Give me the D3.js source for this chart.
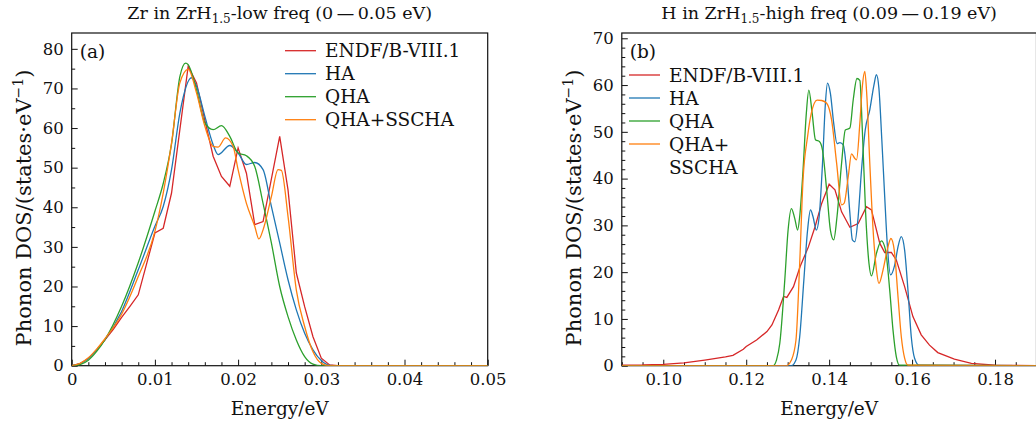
<!DOCTYPE html>
<html>
<head>
<meta charset="utf-8">
<script src="https://cdn.jsdelivr.net/npm/d3@7"></script>
<style>
  body { margin: 0; background: #fff; }
  svg text { font-family: "DejaVu Serif", serif; fill: #111; }
  .tick text { font-size: 16.5px; }
  .tick line, .domain { stroke: #111; }
</style>
</head>
<body>
<svg id="chart" width="1036" height="426"></svg>
<script>
// ---- data ----
var seriesNames = ["ENDF/B-VIII.1", "HA", "QHA", "QHA+SSCHA"];
var seriesColors = ["#d62728", "#1f77b4", "#2ca02c", "#ff7f0e"];

// (a) Zr, low frequency
var zrEndfE = [0, 0.001, 0.002, 0.003, 0.004, 0.005, 0.006, 0.007, 0.008, 0.010, 0.011, 0.012, 0.014, 0.015, 0.016, 0.017, 0.018, 0.019, 0.020, 0.021, 0.022, 0.023, 0.025, 0.026, 0.027, 0.028, 0.029, 0.030, 0.031, 0.032, 0.050];
var zrEndfD = [0, 0.5, 1.8, 4, 6.5, 9.2, 12.2, 15, 17.9, 33.5, 34.7, 43.6, 75.6, 71.4, 62, 52.9, 47.8, 45.3, 55, 48.6, 35.6, 36.4, 57.9, 44.4, 23.4, 14.9, 7.3, 1.9, 0.2, 0, 0];
var zrHaE = [0, 0.001, 0.002, 0.003, 0.004, 0.006, 0.008, 0.010, 0.011, 0.012, 0.013, 0.0144, 0.015, 0.016, 0.017, 0.0176, 0.019, 0.020, 0.021, 0.022, 0.023, 0.024, 0.025, 0.026, 0.027, 0.028, 0.029, 0.030, 0.031, 0.032, 0.050];
var zrHaD = [0, 0.5, 1.8, 4, 6.6, 13.7, 24.2, 35.2, 40.2, 49.5, 63.8, 72.7, 70.6, 63, 55.8, 53.3, 55.6, 53.7, 50.8, 51.3, 49.5, 40.2, 31, 21.7, 14.1, 8.2, 4, 1.3, 0.1, 0, 0];
var zrQhaE = [0, 0.001, 0.002, 0.003, 0.004, 0.006, 0.008, 0.010, 0.011, 0.012, 0.013, 0.0137, 0.014, 0.015, 0.016, 0.017, 0.018, 0.019, 0.020, 0.021, 0.022, 0.023, 0.024, 0.025, 0.026, 0.027, 0.028, 0.029, 0.030, 0.050];
var zrQhaD = [0, 0.3, 1.4, 3.6, 6.6, 15, 26, 39, 46, 56, 73, 76.4, 76, 69.7, 61.3, 59.6, 60.6, 57.9, 53.7, 53, 50.3, 41, 31, 20, 12.4, 6.5, 2.3, 0.4, 0, 0];
var zrSschaE = [0, 0.001, 0.002, 0.003, 0.004, 0.006, 0.008, 0.010, 0.011, 0.012, 0.013, 0.014, 0.015, 0.016, 0.017, 0.0176, 0.0185, 0.0194, 0.020, 0.021, 0.022, 0.0225, 0.023, 0.024, 0.0248, 0.0252, 0.026, 0.027, 0.028, 0.029, 0.030, 0.031, 0.050];
var zrSschaD = [0, 0.6, 2, 4.2, 6.8, 13, 22.5, 33.9, 43.6, 56.2, 71.4, 74.8, 68.9, 60.5, 55.4, 55.2, 57.5, 55.4, 49.5, 41, 35.2, 32, 34.3, 42.7, 49.5, 49.3, 37.7, 19.1, 9.9, 3.5, 0.6, 0, 0];

// (b) H, high frequency
var hEndfE = [0.09, 0.095, 0.10, 0.105, 0.11, 0.115, 0.1168, 0.1193, 0.12, 0.1225, 0.125, 0.1262, 0.1278, 0.129, 0.1298, 0.1314, 0.133, 0.135, 0.1366, 0.1382, 0.140, 0.1414, 0.143, 0.145, 0.147, 0.149, 0.1502, 0.1522, 0.1534, 0.155, 0.1562, 0.1582, 0.1602, 0.1622, 0.1642, 0.1662, 0.1702, 0.1743, 0.18, 0.19];
var hEndfD = [0.1, 0.15, 0.3, 0.6, 1.2, 1.9, 2.2, 3.5, 4.1, 5.5, 7.3, 8.7, 11.9, 14.8, 14.6, 16.9, 21.2, 25.4, 29.7, 34.7, 38.8, 37.6, 32.9, 29.6, 30.4, 34, 33.3, 26.2, 24.2, 24.2, 22.6, 16.9, 10.5, 6.6, 4.4, 2.8, 1.4, 0.5, 0.1, 0];
var hHaE = [0.09, 0.1309, 0.132, 0.1329, 0.1339, 0.1348, 0.1355, 0.1361, 0.1369, 0.1376, 0.1384, 0.1391, 0.1396, 0.1403, 0.1411, 0.1419, 0.1426, 0.1434, 0.1442, 0.145, 0.1456, 0.1462, 0.147, 0.1478, 0.1487, 0.1498, 0.1508, 0.1514, 0.152, 0.1527, 0.1534, 0.154, 0.1548, 0.1558, 0.1566, 0.1574, 0.1582, 0.159, 0.1598, 0.1606, 0.1617, 0.19];
var hHaD = [0, 0, 1.2, 6.2, 18.3, 29, 33.3, 31.9, 29, 31.9, 43.3, 56.1, 60.4, 58.2, 51.8, 47.5, 47.7, 47.2, 41.8, 32.6, 26.9, 26.5, 31.9, 41.8, 50.4, 54.7, 60, 62.2, 59.3, 48.3, 36.1, 26.2, 19.4, 21.5, 25.4, 27.6, 24.7, 16.2, 6.2, 1.6, 0.1, 0];
var hQhaE = [0.09, 0.1265, 0.1273, 0.1281, 0.1293, 0.1301, 0.1309, 0.1317, 0.1324, 0.1329, 0.1337, 0.1345, 0.1351, 0.1359, 0.1367, 0.1377, 0.1384, 0.1394, 0.1403, 0.1411, 0.1419, 0.143, 0.1439, 0.145, 0.1458, 0.1467, 0.1474, 0.148, 0.1488, 0.1496, 0.1502, 0.1514, 0.1526, 0.1536, 0.1546, 0.1554, 0.1562, 0.157, 0.19];
var hQhaD = [0, 0, 1.2, 4.8, 18.3, 29, 33.6, 31.5, 29, 31.9, 41.8, 54, 58.9, 54, 48.3, 47.9, 46.1, 37.6, 29, 26.9, 31.9, 43.3, 50.4, 50.8, 56.8, 61.4, 61, 50.4, 32.6, 21.9, 19.2, 24, 26.7, 24.7, 16.2, 7.6, 1.9, 0.1, 0];
var hSschaE = [0.09, 0.1297, 0.1309, 0.132, 0.1329, 0.1337, 0.1348, 0.1357, 0.1371, 0.1382, 0.1394, 0.1406, 0.1418, 0.143, 0.1436, 0.1446, 0.1454, 0.1462, 0.1466, 0.1474, 0.148, 0.1486, 0.1491, 0.1498, 0.1506, 0.1514, 0.152, 0.153, 0.154, 0.1549, 0.1557, 0.1566, 0.1574, 0.1582, 0.159, 0.19];
var hSschaD = [0, 0, 1.2, 5.5, 21.9, 39.7, 49, 54, 56.8, 56.7, 56.1, 52.5, 43.3, 34.4, 34.7, 40.4, 45.3, 44.3, 44, 51.8, 59.7, 62.9, 57.5, 43.3, 29, 20.5, 17.6, 20.5, 24.7, 27.2, 24.7, 14.8, 6.2, 1.6, 0.1, 0];

// ticks
var xTicksA = [0, 0.01, 0.02, 0.03, 0.04, 0.05];
var xTickLabelsA = ["0", "0.01", "0.02", "0.03", "0.04", "0.05"];
var yTicksA = [0, 10, 20, 30, 40, 50, 60, 70, 80];
var xTicksB = [0.10, 0.12, 0.14, 0.16, 0.18];
var xTickLabelsB = ["0.10", "0.12", "0.14", "0.16", "0.18"];
var yTicksB = [0, 10, 20, 30, 40, 50, 60, 70];

function zip(xs, ys) {
  return xs.map(function (v, i) { return {e: v, d: ys[i]}; });
}

var svg = d3.select("#chart");

function drawPanel(cfg) {
  var x = d3.scaleLinear().domain(cfg.xDomain).range([cfg.left, cfg.right]);
  var y = d3.scaleLinear().domain(cfg.yDomain).range([cfg.bottom, cfg.top]);

  var clipId = "clip-" + cfg.id;
  svg.append("clipPath").attr("id", clipId)
    .append("rect")
      .attr("x", cfg.left).attr("y", cfg.top)
      .attr("width", cfg.right - cfg.left).attr("height", cfg.bottom - cfg.top);

  // minor ticks
  var near = function (v, step) { return Math.abs(v / step - Math.round(v / step)) < 1e-6; };
  var xMinor = d3.range(cfg.xDomain[0], cfg.xDomain[1] + 1e-9, cfg.xMinorStep)
    .filter(function (v) { return !near(v, cfg.xMajorStep); });
  var yMinor = d3.range(0, cfg.yDomain[1], cfg.yMinorStep)
    .filter(function (v) { return !near(v, 10); });

  svg.append("g")
      .attr("transform", "translate(0," + cfg.bottom + ")")
      .call(d3.axisBottom(x).tickValues(xMinor).tickSize(-3.5).tickFormat(""))
      .select(".domain").remove();
  svg.append("g")
      .attr("transform", "translate(" + cfg.left + ",0)")
      .call(d3.axisLeft(y).tickValues(yMinor).tickSize(-3.5).tickFormat(""))
      .select(".domain").remove();

  svg.append("g")
      .attr("transform", "translate(0," + cfg.bottom + ")")
      .call(d3.axisBottom(x).tickValues(cfg.xTicks).tickSize(-6).tickSizeOuter(0).tickPadding(8)
        .tickFormat(function (d, i) { return cfg.xLabels[i]; }))
      .select(".domain").remove();
  svg.append("g")
      .attr("transform", "translate(" + cfg.left + ",0)")
      .call(d3.axisLeft(y).tickValues(cfg.yTicks).tickSize(-6).tickSizeOuter(0).tickPadding(8))
      .select(".domain").remove();

  // frame
  svg.append("rect")
      .attr("x", cfg.left).attr("y", cfg.top)
      .attr("width", cfg.right - cfg.left).attr("height", cfg.bottom - cfg.top)
      .attr("fill", "none").attr("stroke", "#111").attr("stroke-width", 1.2);

  // curves
  var lines = svg.append("g").attr("clip-path", "url(#" + clipId + ")");
  cfg.series.forEach(function (s, i) {
    lines.append("path")
        .datum(s)
        .attr("fill", "none")
        .attr("stroke", seriesColors[i])
        .attr("stroke-width", 1.3)
        .attr("d", d3.line()
          .curve(i === 0 ? d3.curveLinear : d3.curveMonotoneX)
          .x(function (d) { return x(d.e); })
          .y(function (d) { return y(d.d); }));
  });

  // title
  var cx = (cfg.left + cfg.right) / 2;
  var t = svg.append("text").attr("x", cx).attr("y", 19)
      .attr("text-anchor", "middle").style("font-size", "17.5px");
  t.append("tspan").text(cfg.title[0]);
  t.append("tspan").attr("dy", 4).style("font-size", "12px").text("1.5");
  t.append("tspan").attr("dy", -4).text(cfg.title[1]);

  // axis labels
  svg.append("text").attr("x", cx).attr("y", 415)
      .attr("text-anchor", "middle").style("font-size", "18.5px")
      .text("Energy/eV");
  var yl = svg.append("text")
      .attr("transform", "translate(" + cfg.yLabelX + ",208) rotate(-90)")
      .attr("text-anchor", "middle").style("font-size", "21px");
  yl.append("tspan").text("Phonon DOS/(states\u00b7eV");
  yl.append("tspan").attr("dy", -8).style("font-size", "14px").text("\u22121");
  yl.append("tspan").attr("dy", 8).text(")");

  // panel tag
  svg.append("text").attr("x", cfg.left + 8).attr("y", 58)
      .style("font-size", "18.5px").text(cfg.tag);

  // legend
  var lg = svg.append("g");
  var rowY = cfg.legendY;
  seriesNames.forEach(function (name, i) {
    var parts = cfg.legendSplit && i === 3 ? ["QHA+", "SSCHA"] : [name];
    lg.append("line")
        .attr("x1", cfg.legendX).attr("x2", cfg.legendX + 31)
        .attr("y1", rowY).attr("y2", rowY)
        .attr("stroke", seriesColors[i]).attr("stroke-width", 1.3);
    parts.forEach(function (p, k) {
      lg.append("text")
          .attr("x", cfg.legendX + 40).attr("y", rowY + 6.5 + k * 23)
          .style("font-size", "18.5px").text(p);
    });
    rowY += 23;
  });
}

drawPanel({
  id: "a", left: 71.7, right: 487.7, top: 33, bottom: 365.7,
  xDomain: [0, 0.05], yDomain: [0, 84],
  xTicks: xTicksA, xLabels: xTickLabelsA, yTicks: yTicksA,
  xMajorStep: 0.01, xMinorStep: 0.002, yMinorStep: 5,
  series: [zip(zrEndfE, zrEndfD), zip(zrHaE, zrHaD), zip(zrQhaE, zrQhaD), zip(zrSschaE, zrSschaD)],
  title: ["Zr in ZrH", "-low freq (0\u2009\u2014\u20090.05 eV)"],
  yLabelX: 31, tag: "(a)",
  legendX: 285, legendY: 50.7, legendSplit: false
});

drawPanel({
  id: "b", left: 621.8, right: 1036.5, top: 33, bottom: 365.7,
  xDomain: [0.09, 0.19], yDomain: [0, 71.13],
  xTicks: xTicksB, xLabels: xTickLabelsB, yTicks: yTicksB,
  xMajorStep: 0.02, xMinorStep: 0.005, yMinorStep: 2,
  series: [zip(hEndfE, hEndfD), zip(hHaE, hHaD), zip(hQhaE, hQhaD), zip(hSschaE, hSschaD)],
  title: ["H in ZrH", "-high freq (0.09\u2009\u2014\u20090.19 eV)"],
  yLabelX: 581, tag: "(b)",
  legendX: 629, legendY: 75, legendSplit: true
});
</script>
</body>
</html>
